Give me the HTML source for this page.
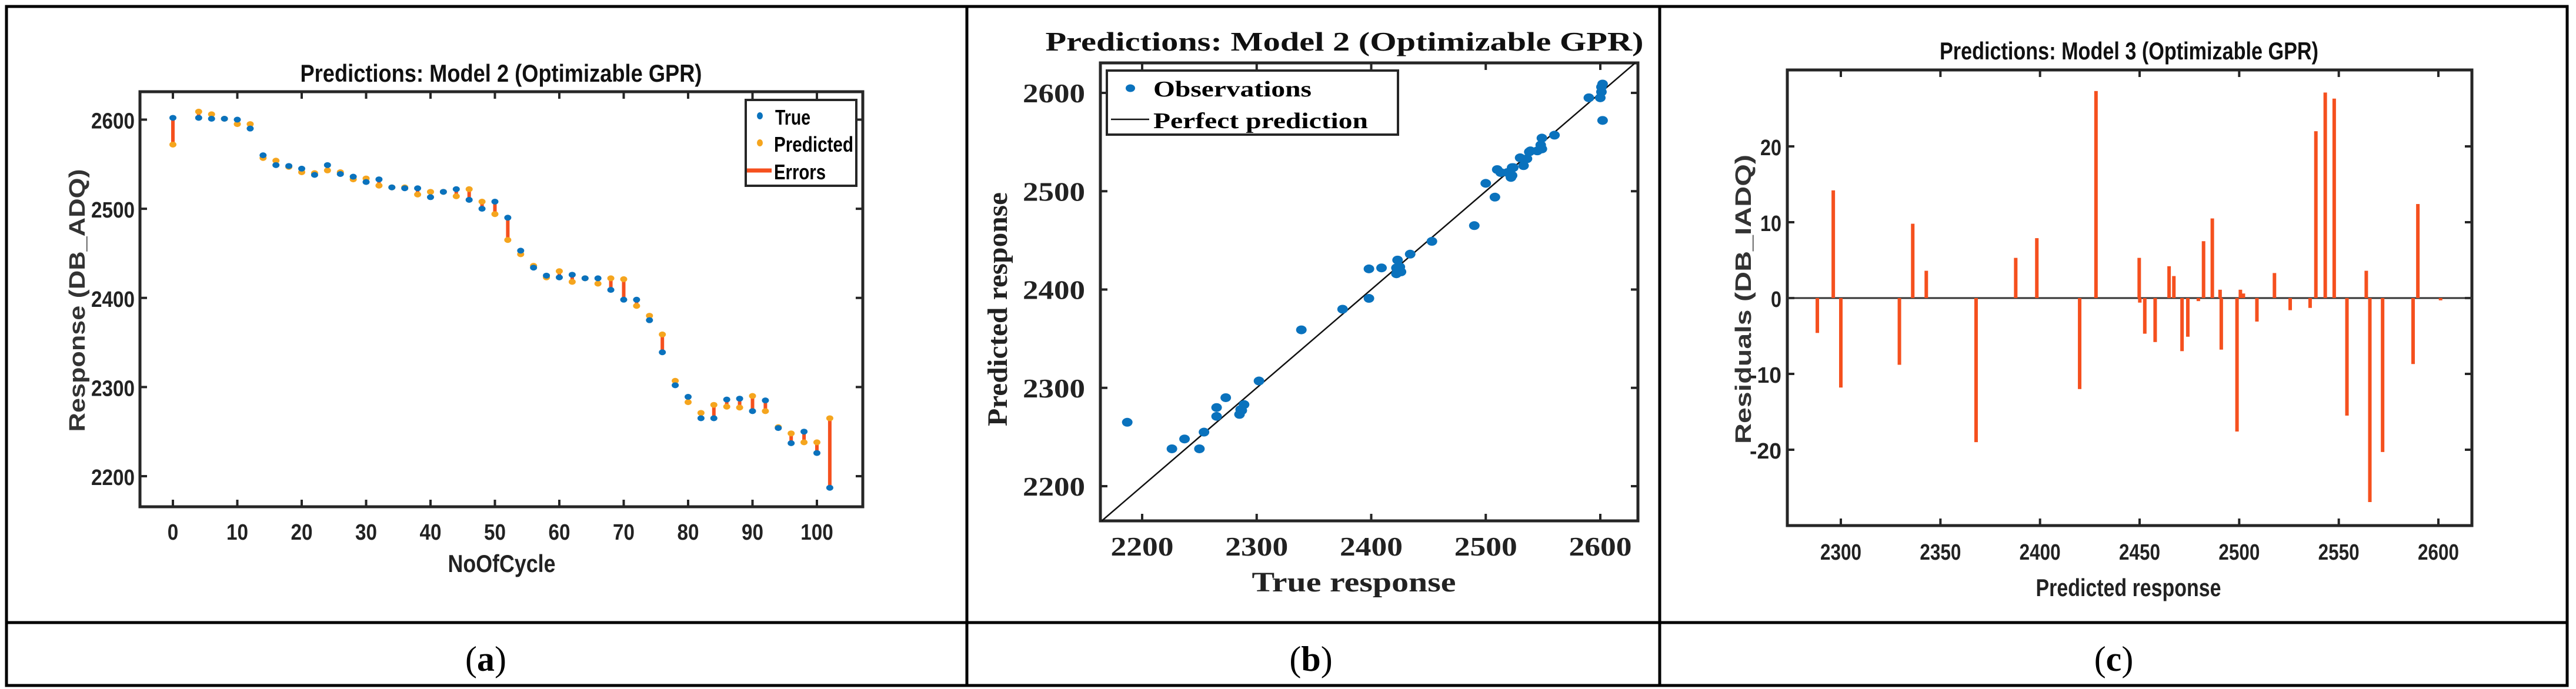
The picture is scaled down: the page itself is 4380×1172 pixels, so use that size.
<!DOCTYPE html>
<html><head><meta charset="utf-8"><style>
html,body{margin:0;padding:0;background:#fff;}
svg{display:block;}
</style></head><body>
<svg id="fig" xmlns="http://www.w3.org/2000/svg" width="4380" height="1172" viewBox="0 0 4380 1172">
<rect x="0" y="0" width="4380" height="1172" fill="#fff"/>
<g id="frame" stroke="#000" stroke-width="5" fill="none">
<rect x="11" y="11" width="4354" height="1155"/>
<line x1="11" y1="1059" x2="4365" y2="1059"/>
<line x1="1644" y1="11" x2="1644" y2="1166"/>
<line x1="2822" y1="11" x2="2822" y2="1166"/>
</g>
<g id="pa"></g>
<g id="pb"></g>
<g id="pc"></g>
<text x="826" y="1141" text-anchor="middle" font-family="Liberation Serif, serif" font-size="60">(<tspan font-weight="bold">a</tspan>)</text>
<text x="2229" y="1141" text-anchor="middle" font-family="Liberation Serif, serif" font-size="60">(<tspan font-weight="bold">b</tspan>)</text>
<text x="3594" y="1141" text-anchor="middle" font-family="Liberation Serif, serif" font-size="60">(<tspan font-weight="bold">c</tspan>)</text>
</svg>
<script>
// ---- data: panel a & b (Model 2) ----
const cycles = [0,4,6,8,10,12,14,16,18,20,22,24,26,28,30,32,34,36,38,40,42,44,46,48,50,52,54,56,58,60,62,64,66,68,70,72,74,76,78,80,82,84,86,88,90,92,94,96,98,100,102];
const trueVals = [2602,2602,2601,2601,2600,2590,2560,2549,2548,2545,2538,2549,2539,2536,2530,2533,2524,2523,2523,2513,2519,2522,2510,2500,2508,2490,2453,2434,2425,2423,2426,2422,2422,2409,2398,2398,2375,2339,2302,2289,2265,2265,2286,2287,2273,2285,2254,2237,2250,2226,2187];
const predVals = [2572,2609,2606,2601,2595,2595,2557,2554,2547,2541,2540,2543,2541,2533,2534,2526,2524,2524,2516,2519,2519,2514,2522,2508,2494,2465,2449,2436,2423,2430,2418,2422,2416,2422,2421,2391,2380,2359,2307,2283,2271,2280,2278,2277,2290,2273,2255,2248,2238,2238,2265];
const aXTicks = [0,10,20,30,40,50,60,70,80,90,100];
const aYTicks = [2200,2300,2400,2500,2600];
const bTicks = [2200,2300,2400,2500,2600];
// ---- data: panel c (Model 3 residuals) ----
const cPred = [2288.2,2296.2,2300,2329.4,2336.1,2342.9,2367.9,2387.8,2398.4,2419.9,2428.1,2449.8,2450.1,2452.6,2457.8,2464.8,2467.2,2471.3,2474.2,2479.5,2482.1,2486.5,2490.4,2491,2498.9,2500.6,2502.1,2508.9,2517.7,2525.6,2535.6,2538.5,2543.2,2547.7,2554.1,2563.8,2565.6,2572,2587.3,2589.7,2601.1];
const cResid = [-4.6,14.2,-11.8,-8.8,9.8,3.6,-19,5.3,7.9,-12,27.3,5.3,-0.6,-4.7,-5.8,4.2,2.9,-7,-5.1,-0.4,7.5,10.5,1.1,-6.8,-17.6,1.1,0.6,-3.1,3.3,-1.6,-1.3,22,27.1,26.3,-15.5,3.6,-26.9,-20.3,-8.7,12.4,-0.3];
const cXTicks = [2300,2350,2400,2450,2500,2550,2600];
const cYTicks = [-20,-10,0,10,20];

const NS = "http://www.w3.org/2000/svg";
function mk(parent, tag, attrs, txt){
  const e = document.createElementNS(NS, tag);
  for (const k in attrs) e.setAttribute(k, attrs[k]);
  if (txt !== undefined) e.textContent = txt;
  parent.appendChild(e);
  return e;
}
function lin(d0,d1,r0,r1){ return v => r0 + (v-d0)/(d1-d0)*(r1-r0); }

function frame(g, L, T, R, B, xs, ys, xt, yt){
  const ax = mk(g,'g',{});
  
  
  mk(ax,'rect',{x:L,y:T,width:R-L,height:B-T,fill:'none',stroke:'#262626','stroke-width':5});
  xt.forEach(v=>{ const x=xs(v);
    mk(ax,'line',{x1:x,y1:B,x2:x,y2:B-12,stroke:'#262626','stroke-width':4});
    mk(ax,'line',{x1:x,y1:T,x2:x,y2:T+12,stroke:'#262626','stroke-width':4});});
  yt.forEach(v=>{ const y=ys(v);
    mk(ax,'line',{x1:L,y1:y,x2:L+12,y2:y,stroke:'#262626','stroke-width':4});
    mk(ax,'line',{x1:R,y1:y,x2:R-12,y2:y,stroke:'#262626','stroke-width':4});});
}
function txt(g, name, x, y, s, o){
  const a = Object.assign({x:x,y:y}, o);
  const t = mk(g,'text',a,s);
  
  
  return t;
}
const sans = 'Liberation Sans, sans-serif', serif = 'Liberation Serif, serif';

// ---------- Panel A ----------
(function(){
  const g = document.getElementById('pa');
  const L=238,T=156,R=1467,B=862;
  const xs = lin(0,100,294,1389), ys = lin(2200,2600,810,203.5);
  frame(g,L,T,R,B,xs,ys,aXTicks,aYTicks);
  cycles.forEach((c,i)=>{
    const x=xs(c);
    const e = mk(g,'line',{x1:x,y1:ys(trueVals[i]),x2:x,y2:ys(predVals[i]),stroke:'#f5501e','stroke-width':6});
    
    
  });
  cycles.forEach((c,i)=>{
    const x=xs(c);
    const p = mk(g,'ellipse',{cx:x,cy:ys(predVals[i]),rx:6,ry:5,fill:'#f5a51e'});
    
    
    const t = mk(g,'ellipse',{cx:x,cy:ys(trueVals[i]),rx:6,ry:5,fill:'#0a72bd'});
    
    
  });
  aXTicks.forEach(v=>txt(g,'x-tick-label',xs(v),918,String(v),{'text-anchor':'middle','font-family':sans,'font-weight':'bold','font-size':38,'textLength':String(v).length*18.5,'lengthAdjust':'spacingAndGlyphs',fill:'#222'}));
  aYTicks.forEach(v=>txt(g,'y-tick-label',229,ys(v)+15,String(v),{'text-anchor':'end','font-family':sans,'font-weight':'bold','font-size':38,'textLength':74,'lengthAdjust':'spacingAndGlyphs',fill:'#222'}));
  txt(g,'chart-title',852,139,'Predictions: Model 2 (Optimizable GPR)',{'text-anchor':'middle','font-family':sans,'font-weight':'bold','font-size':42,'textLength':683,'lengthAdjust':'spacingAndGlyphs',fill:'#111'});
  txt(g,'x-axis-title',853,973,'NoOfCycle',{'text-anchor':'middle','font-family':sans,'font-weight':'bold','font-size':42,'textLength':183,'lengthAdjust':'spacingAndGlyphs',fill:'#222'});
  txt(g,'y-axis-title',0,0,'Response (DB_ADQ)',{'text-anchor':'middle','font-family':sans,'font-weight':'bold','font-size':38,'textLength':447,'lengthAdjust':'spacingAndGlyphs',fill:'#333',transform:'translate(144,511) rotate(-90)'});
  const lg = mk(g,'g',{});
  
  
  mk(lg,'rect',{x:1268,y:170,width:188,height:146,fill:'#fff',stroke:'#262626','stroke-width':4});
  mk(lg,'ellipse',{cx:1292,cy:197,rx:5,ry:6,fill:'#0a72bd'});
  mk(lg,'ellipse',{cx:1292,cy:243,rx:5,ry:6,fill:'#f5a51e'});
  mk(lg,'line',{x1:1270,y1:290,x2:1312,y2:290,stroke:'#f5501e','stroke-width':7});
  txt(lg,'legend-true',1318,212,'True',{'font-family':sans,'font-weight':'bold','font-size':36,'textLength':60,'lengthAdjust':'spacingAndGlyphs'});
  txt(lg,'legend-predicted',1316,258,'Predicted',{'font-family':sans,'font-weight':'bold','font-size':36,'textLength':135,'lengthAdjust':'spacingAndGlyphs'});
  txt(lg,'legend-errors',1316,305,'Errors',{'font-family':sans,'font-weight':'bold','font-size':36,'textLength':88,'lengthAdjust':'spacingAndGlyphs'});
})();

// ---------- Panel B ----------
(function(){
  const g = document.getElementById('pb');
  const L=1871,T=107,R=2785,B=886;
  const xs = lin(2200,2600,1942,2721), ys = lin(2200,2600,827,158);
  const xmin=(L-1942)/((2721-1942)/400)+2200, ymin=2200-(B-827)/((827-158)/400);
  const ymax=2600+(158-T)/((827-158)/400), xmax=2600+(R-2721)/((2721-1942)/400);
  frame(g,L,T,R,B,xs,ys,bTicks,bTicks);
  const lo=Math.max(xmin,ymin), hi=Math.min(xmax,ymax);
  const pl = mk(g,'line',{x1:xs(lo),y1:ys(lo),x2:xs(hi),y2:ys(hi),stroke:'#111','stroke-width':2.5});
  
  
  trueVals.forEach((t,i)=>{
    const d = mk(g,'ellipse',{cx:xs(t),cy:ys(predVals[i]),rx:9,ry:7.5,fill:'#0a72bd'});
    
    
  });
  bTicks.forEach(v=>txt(g,'x-tick-label',xs(v),945,String(v),{'text-anchor':'middle','font-family':serif,'font-weight':'bold','font-size':46,'textLength':107,'lengthAdjust':'spacingAndGlyphs',fill:'#222'}));
  bTicks.forEach(v=>txt(g,'y-tick-label',1845,ys(v)+16,String(v),{'text-anchor':'end','font-family':serif,'font-weight':'bold','font-size':46,'textLength':106,'lengthAdjust':'spacingAndGlyphs',fill:'#222'}));
  txt(g,'chart-title',2286,86,'Predictions: Model 2 (Optimizable GPR)',{'text-anchor':'middle','font-family':serif,'font-weight':'bold','font-size':46,'textLength':1017,'lengthAdjust':'spacingAndGlyphs',fill:'#111'});
  txt(g,'x-axis-title',2302,1006,'True response',{'text-anchor':'middle','font-family':serif,'font-weight':'bold','font-size':48,'textLength':347,'lengthAdjust':'spacingAndGlyphs',fill:'#222'});
  txt(g,'y-axis-title',0,0,'Predicted response',{'text-anchor':'middle','font-family':serif,'font-weight':'bold','font-size':48,'textLength':398,'lengthAdjust':'spacingAndGlyphs',fill:'#222',transform:'translate(1712,526) rotate(-90)'});
  const lg = mk(g,'g',{});
  
  
  mk(lg,'rect',{x:1882,y:120,width:495,height:109,fill:'#fff',stroke:'#262626','stroke-width':4});
  mk(lg,'ellipse',{cx:1922,cy:150,rx:8,ry:6.5,fill:'#0a72bd'});
  mk(lg,'line',{x1:1889,y1:203,x2:1954,y2:203,stroke:'#111','stroke-width':2.5});
  txt(lg,'legend-observations',1961,164,'Observations',{'font-family':serif,'font-weight':'bold','font-size':38,'textLength':269,'lengthAdjust':'spacingAndGlyphs'});
  txt(lg,'legend-perfect-prediction',1961,218,'Perfect prediction',{'font-family':serif,'font-weight':'bold','font-size':38,'textLength':365,'lengthAdjust':'spacingAndGlyphs'});
})();

// ---------- Panel C ----------
(function(){
  const g = document.getElementById('pc');
  const L=3039,T=119,R=4203,B=894;
  const xs = lin(2300,2600,3130,4146), ys = lin(-20,20,765,249);
  frame(g,L,T,R,B,xs,ys,cXTicks,cYTicks);
  const z = mk(g,'line',{x1:L,y1:ys(0),x2:R,y2:ys(0),stroke:'#333','stroke-width':3});
  
  
  cPred.forEach((p,i)=>{
    const x=xs(p), y0=ys(0), y1=ys(cResid[i]);
    const r = mk(g,'rect',{x:x-3,y:Math.min(y0,y1),width:6,height:Math.abs(y1-y0),fill:'#f5501e'});
    
    
  });
  cXTicks.forEach(v=>txt(g,'x-tick-label',xs(v),952,String(v),{'text-anchor':'middle','font-family':sans,'font-weight':'bold','font-size':38,'textLength':70,'lengthAdjust':'spacingAndGlyphs',fill:'#222'}));
  cYTicks.forEach(v=>{const s=String(v); txt(g,'y-tick-label',3029,ys(v)+15,s,{'text-anchor':'end','font-family':sans,'font-weight':'bold','font-size':38,'textLength':s.length*18,'lengthAdjust':'spacingAndGlyphs',fill:'#222'});});
  txt(g,'chart-title',3620,101,'Predictions: Model 3 (Optimizable GPR)',{'text-anchor':'middle','font-family':sans,'font-weight':'bold','font-size':42,'textLength':644,'lengthAdjust':'spacingAndGlyphs',fill:'#111'});
  txt(g,'x-axis-title',3619,1014,'Predicted response',{'text-anchor':'middle','font-family':sans,'font-weight':'bold','font-size':42,'textLength':315,'lengthAdjust':'spacingAndGlyphs',fill:'#222'});
  txt(g,'y-axis-title',0,0,'Residuals (DB_IADQ)',{'text-anchor':'middle','font-family':sans,'font-weight':'bold','font-size':38,'textLength':492,'lengthAdjust':'spacingAndGlyphs',fill:'#333',transform:'translate(2977,509) rotate(-90)'});
})();
</script>
</body></html>
